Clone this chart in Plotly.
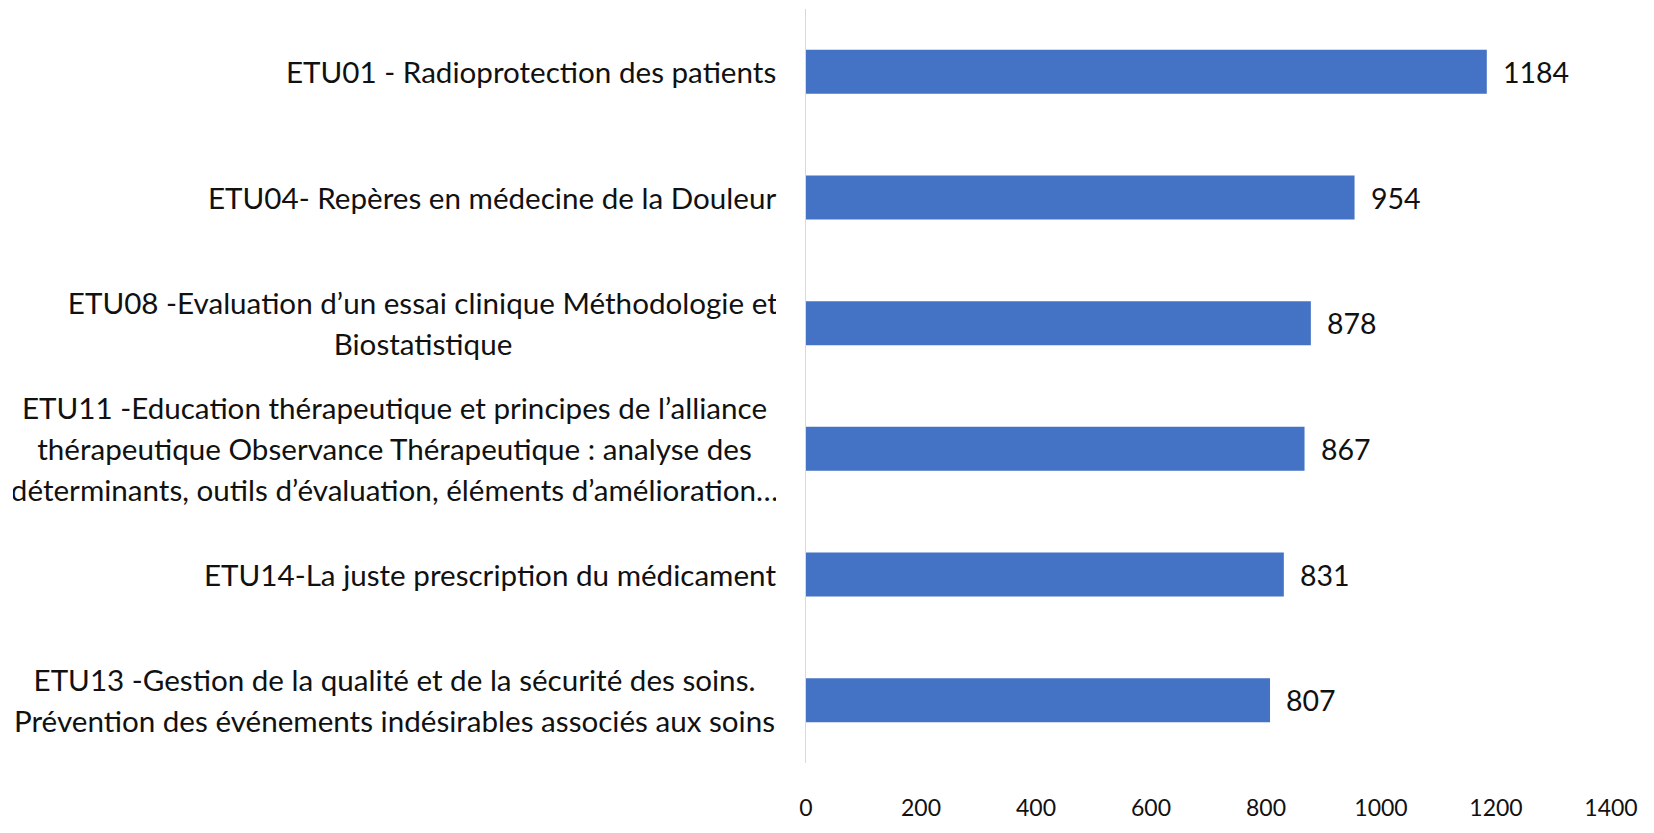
import plotly.graph_objects as go

categories = [
    ["ETU01 - Radioprotection des patients"],
    ["ETU04- Repères en médecine de la Douleur"],
    ["ETU08 -Evaluation d’un essai clinique Méthodologie et", "Biostatistique"],
    ["ETU11 -Education thérapeutique et principes de l’alliance",
     "thérapeutique Observance Thérapeutique : analyse des",
     "déterminants, outils d’évaluation, éléments d’amélioration…"],
    ["ETU14-La juste prescription du médicament"],
    ["ETU13 -Gestion de la qualité et de la sécurité des soins.",
     "Prévention des événements indésirables associés aux soins"],
]
values = [1184, 954, 878, 867, 831, 807]
tick_values = [0, 200, 400, 600, 800, 1000, 1200, 1400]

# layout: width of the centred label block for multi-line labels (px)
block_width = [None, None, 706, 763, None, 763]

keys = ["ETU%d" % i for i in range(len(categories))]
FONT = "Lato"
FS = 29.6
FS_VAL = 28.5
FS_TICK = 23
TXT = "#111111"

fig = go.Figure(go.Bar(
    x=values, y=keys, orientation="h",
    marker=dict(color="#4472C4", line=dict(width=0)),
    hoverinfo="skip",
))

ann = []
for k, lines, v, w in zip(keys, categories, values, block_width):
    n = len(lines)
    for i, line in enumerate(lines):
        a = dict(
            x=0, xref="paper", y=k, yref="y", text=line, showarrow=False,
            xanchor="right", yanchor="middle", xshift=-28,
            yshift=((n - 1) / 2 - i) * 41, align="center",
            font=dict(family=FONT, size=FS, color=TXT),
        )
        if w:
            a["width"] = w
        ann.append(a)
    ann.append(dict(
        x=v, xref="x", y=k, yref="y", text=str(v), showarrow=False,
        xanchor="left", yanchor="middle", xshift=14,
        font=dict(family=FONT, size=FS_VAL, color=TXT),
    ))

fig.update_layout(
    width=1638, height=817,
    margin=dict(l=798, r=35, t=1, b=62),
    paper_bgcolor="white", plot_bgcolor="white",
    bargap=0.65,
    showlegend=False,
    annotations=ann,
    xaxis=dict(range=[0, 1400], tickvals=tick_values,
               ticktext=[str(t) for t in tick_values],
               showgrid=False, zeroline=False, showline=False,
               ticks="", ticklabelstandoff=29,
               tickfont=dict(family=FONT, size=FS_TICK, color=TXT)),
    yaxis=dict(categoryorder="array", categoryarray=keys, autorange="reversed",
               showticklabels=False, showgrid=False, zeroline=False,
               showline=True, linecolor="#d9d9d9", linewidth=1, ticks=""),
)

fig.write_html("out.html")
